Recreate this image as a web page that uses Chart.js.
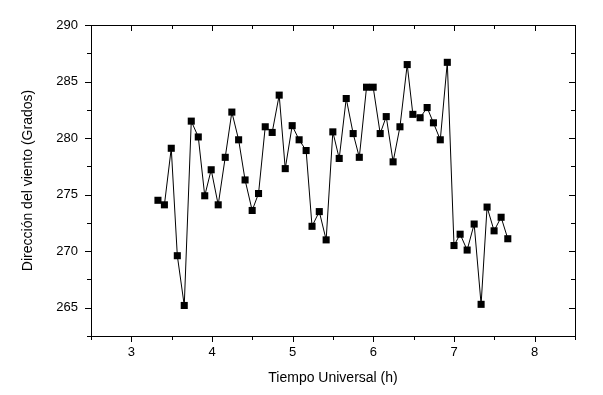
<!DOCTYPE html>
<html lang="es">
<head>
    <meta charset="UTF-8">
    <title>Dirección del viento</title>
    <style>
        body {
            margin: 0;
            background-color: #ffffff;
        }
        #wrap {
            width: 603px;
            height: 395px;
        }
    </style>
    <script src="https://cdn.jsdelivr.net/npm/chart.js"></script>
</head>
<body>
    <div id="wrap">
        <canvas id="vientoChart" width="603" height="395"></canvas>
    </div>

    <script>
        // Tiempo Universal (h) y dirección del viento (grados)
        const tiempo = [3.33, 3.41, 3.495, 3.57, 3.656, 3.743, 3.83, 3.91, 3.99, 4.077,
            4.164, 4.246, 4.33, 4.41, 4.498, 4.577, 4.66, 4.746, 4.833, 4.908,
            4.994, 5.08, 5.167, 5.24, 5.33, 5.415, 5.498, 5.577, 5.664, 5.75,
            5.826, 5.916, 5.998, 6.085, 6.16, 6.245, 6.33, 6.42, 6.49, 6.58,
            6.667, 6.745, 6.83, 6.917, 7.0, 7.076, 7.163, 7.25, 7.336, 7.41,
            7.497, 7.584, 7.667];
        const direccion = [274.5, 274.1, 279.1, 269.6, 265.2, 281.5, 280.1, 274.9, 277.2, 274.1,
            278.3, 282.3, 279.85, 276.3, 273.6, 275.1, 281.0, 280.5, 283.8, 277.3,
            281.1, 279.85, 278.9, 272.2, 273.5, 271.0, 280.55, 278.2, 283.5, 280.4,
            278.3, 284.5, 284.5, 280.4, 281.9, 277.9, 281.0, 286.5, 282.1, 281.8,
            282.7, 281.35, 279.85, 286.7, 270.5, 271.5, 270.1, 272.4, 265.3, 273.9,
            271.8, 273.0, 271.1];

        const xTicks = [3, 4, 5, 6, 7, 8];
        const yTicks = [265, 270, 275, 280, 285, 290];

        const points = tiempo.map((t, i) => ({ x: t, y: direccion[i] }));

        // marco y marcas de escala como en Origin: fuera abajo/izquierda, dentro arriba/derecha
        const framePlugin = {
            id: 'frame',
            afterDraw(chart) {
                const ctx = chart.ctx;
                const a = chart.chartArea;
                const sx = chart.scales.x;
                const sy = chart.scales.y;
                ctx.save();
                ctx.strokeStyle = '#000';
                ctx.lineWidth = 1;
                ctx.beginPath();
                ctx.rect(Math.round(a.left) + 0.5, Math.round(a.top) + 0.5,
                    Math.round(a.right - a.left), Math.round(a.bottom - a.top));
                sx.ticks.forEach(t => {
                    const px = Math.round(sx.getPixelForValue(t.value)) + 0.5;
                    const major = xTicks.includes(t.value);
                    const len = major ? 6 : 4;
                    ctx.moveTo(px, a.bottom);
                    ctx.lineTo(px, a.bottom + len);
                    ctx.moveTo(px, a.top);
                    ctx.lineTo(px, a.top + len);
                });
                sy.ticks.forEach(t => {
                    const py = Math.round(sy.getPixelForValue(t.value)) + 0.5;
                    const major = yTicks.includes(t.value);
                    const len = major ? 6 : 4;
                    ctx.moveTo(a.left, py);
                    ctx.lineTo(a.left - len, py);
                    ctx.moveTo(a.right, py);
                    ctx.lineTo(a.right - len, py);
                });
                ctx.stroke();
                ctx.restore();
            }
        };

        new Chart(document.getElementById('vientoChart').getContext('2d'), {
            type: 'line',
            data: {
                datasets: [{
                    label: 'Dirección del viento',
                    data: points,
                    borderColor: '#000',
                    borderWidth: 1,
                    backgroundColor: '#000',
                    pointStyle: 'rect',
                    pointRadius: 5,
                    pointBorderWidth: 0,
                    pointBackgroundColor: '#000',
                    tension: 0,
                    fill: false
                }]
            },
            options: {
                responsive: false,
                animation: false,
                layout: {
                    padding: { top: 25, right: 28, left: 0, bottom: 0 }
                },
                plugins: {
                    legend: { display: false },
                    tooltip: { enabled: false }
                },
                scales: {
                    x: {
                        type: 'linear',
                        min: 2.5,
                        max: 8.5,
                        afterFit: scale => { scale.height = 59; },
                        grid: { display: false, drawTicks: false },
                        border: { display: false },
                        ticks: {
                            stepSize: 0.5,
                            padding: 9,
                            color: '#000',
                            font: { family: 'Liberation Sans, Arial, sans-serif', size: 13 },
                            maxRotation: 0,
                            autoSkip: false,
                            callback: v => xTicks.includes(v) ? String(v) : ''
                        },
                        title: {
                            display: true,
                            text: 'Tiempo Universal (h)',
                            color: '#000',
                            font: { family: 'Liberation Sans, Arial, sans-serif', size: 14 },
                            padding: { top: 0, bottom: 8 }
                        }
                    },
                    y: {
                        min: 262.5,
                        max: 290,
                        afterFit: scale => { scale.width = 91; },
                        grid: { display: false, drawTicks: false },
                        border: { display: false },
                        ticks: {
                            stepSize: 2.5,
                            padding: 13,
                            color: '#000',
                            font: { family: 'Liberation Sans, Arial, sans-serif', size: 13 },
                            autoSkip: false,
                            callback: v => yTicks.includes(v) ? String(v) : ''
                        },
                        title: {
                            display: true,
                            text: 'Dirección del viento (Grados)',
                            color: '#000',
                            font: { family: 'Liberation Sans, Arial, sans-serif', size: 14 },
                            padding: { top: 20, bottom: 0 }
                        }
                    }
                }
            },
            plugins: [framePlugin]
        });
    </script>
</body>
</html>
